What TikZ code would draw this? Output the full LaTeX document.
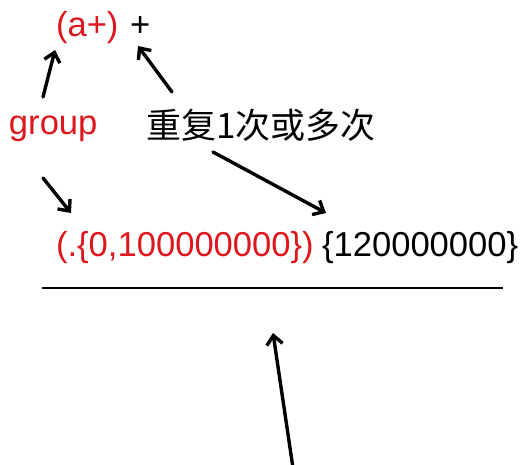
\documentclass[tikz,border=0pt]{standalone}
\usepackage{fontspec}
\setmainfont{Liberation Sans}
\newfontfamily\cjk{Noto Sans CJK SC}
\usetikzlibrary{arrows.meta}
\definecolor{myred}{RGB}{222,22,30}
\begin{document}
\begin{tikzpicture}[x=1pt,y=-1pt,
  lbl/.style={inner sep=0,outer sep=0,anchor=base west,font=\fontsize{34.6}{40}\selectfont},
  cjklbl/.style={inner sep=0,outer sep=0,anchor=base west,font=\cjk\fontsize{35}{40}\selectfont},
  arr/.style={line width=3.4pt,line cap=round,-{Straight Barb[length=9pt,width=16pt,line width=3.4pt]}}]
\useasboundingbox (0,0) rectangle (530,465);
% texts
\node[lbl,text=myred] (grp) at (56,36.5) {(a+)};
\node[lbl] (plus) at (130,36.5) {+};
\node[lbl,text=myred] (group) at (9,135) {group};
\node[cjklbl] (rep) at (146,139) {重复1次或多次};
\node[lbl,text=myred] (pat) at (56,256) {(.\{0,100000000\})};
\node[lbl] (cnt) at (322,256) {\{120000000\}};
% line
\coordinate (l1) at (42,288);
\coordinate (l2) at (503,288);
\draw[line width=2pt] (l1) -- (l2);
% arrow ends
\coordinate (t1) at (43,97);   \coordinate (h1) at (55,50);
\coordinate (t2) at (172,92);  \coordinate (h2) at (138,46);
\coordinate (t3) at (43,178);  \coordinate (h3) at (71,213);
\coordinate (t4) at (213,152); \coordinate (h4) at (326,213);
\coordinate (t5) at (293,468); \coordinate (h5) at (273,333);
\draw[arr] (t1) -- (h1);
\draw[arr] (t2) -- (h2);
\draw[arr] (t3) -- (h3);
\draw[arr] (t4) -- (h4);
\draw[arr] (t5) -- (h5);
\end{tikzpicture}
\end{document}
